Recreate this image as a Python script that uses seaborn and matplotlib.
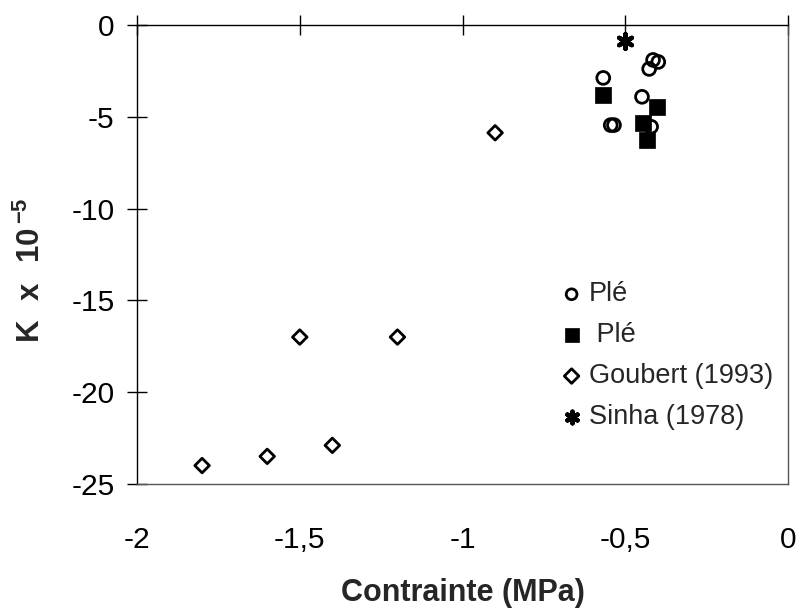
import numpy as np
import seaborn as sns
import matplotlib
matplotlib.use("Agg")
import matplotlib.pyplot as plt

# open circles - Plé
ple_open_x = [-0.427, -0.415, -0.399, -0.568, -0.449, -0.545, -0.535, -0.421]
ple_open_y = [-2.39, -1.90, -2.01, -2.88, -3.91, -5.45, -5.45, -5.54]

# filled squares - Plé
ple_fill_x = [-0.568, -0.402, -0.445, -0.433]
ple_fill_y = [-3.80, -4.46, -5.33, -6.25]

# diamonds - Goubert (1993)
goubert_x = [-1.80, -1.60, -1.40, -1.50, -1.20, -0.90]
goubert_y = [-24.0, -23.5, -22.9, -17.0, -17.0, -5.87]

# asterisk - Sinha (1978)
sinha_x = [-0.50]
sinha_y = [-0.87]

x_ticks = [-2, -1.5, -1, -0.5, 0]
x_ticklabels = ["-2", "-1,5", "-1", "-0,5", "0"]
y_ticks = [0, -5, -10, -15, -20, -25]

sns.set_style("white")
plt.rcParams['font.family'] = ['Liberation Sans', 'DejaVu Sans']
plt.rcParams['axes.unicode_minus'] = False
plt.rcParams['mathtext.fontset'] = 'custom'
plt.rcParams['mathtext.rm'] = 'Liberation Sans'
plt.rcParams['mathtext.bf'] = 'Liberation Sans:bold'

fig = plt.figure(figsize=(8.01, 6.11), dpi=100)
ax = fig.add_axes([0.171, 0.208, 0.813, 0.751])

sns.scatterplot(x=ple_open_x, y=ple_open_y, ax=ax, marker="o", s=85,
                facecolor="none", edgecolor="black", linewidth=2.0, label="Plé")
sns.scatterplot(x=ple_fill_x, y=ple_fill_y, ax=ax, marker="s", s=140,
                color="black", edgecolor="black", linewidth=0.5, label=" Plé")
sns.scatterplot(x=goubert_x, y=goubert_y, ax=ax, marker="D", s=55,
                facecolor="none", edgecolor="black", linewidth=2.0, label="Goubert (1993)")
sns.scatterplot(x=sinha_x, y=sinha_y, ax=ax, marker=(6, 2, 0), s=110,
                color="black", edgecolor="black", linewidth=3.2, label="Sinha (1978)")

ax.set_xlim(-2, 0)
ax.set_ylim(-25, 0)
ax.set_xticks(x_ticks)
ax.set_xticklabels(x_ticklabels)
ax.set_yticks(y_ticks)

for sp in ax.spines.values():
    sp.set_color("black")
    sp.set_linewidth(1.0)
ax.spines["right"].set_color("#555555")
ax.spines["bottom"].set_color("#555555")

ax.tick_params(axis="x", top=True, bottom=False, labeltop=False, labelbottom=True,
               direction="inout", length=14, width=1, pad=23, labelsize=21.5, colors="black")
ax.tick_params(axis="y", left=True, direction="inout", length=14, width=1,
               pad=9, labelsize=21.5, colors="black")

ax.set_xlabel("Contrainte (MPa)", fontsize=22, fontweight="bold")
ax.xaxis.set_label_coords(0.5, -0.205)
ax.set_ylabel(r"$\mathbf{K\ \ x\ \ 10}^{\,\mathbf{-5}}$", fontsize=22.5)
ax.yaxis.set_label_coords(-0.138, 0.466)

leg = ax.legend(loc="upper left", bbox_to_anchor=(0.63, 0.465), frameon=False,
                fontsize=19.5, handletextpad=0.15, labelspacing=0.55,
                handlelength=1.0, borderaxespad=0)
for h, sz in zip(leg.legend_handles, [60, 90, 55, 70]):
    h.set_sizes([sz])

fig.savefig("out.png", dpi=100)
